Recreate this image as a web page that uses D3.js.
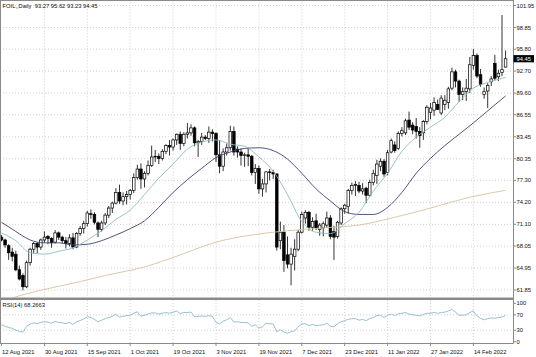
<!DOCTYPE html>
<html><head><meta charset="utf-8">
<script src="https://cdn.jsdelivr.net/npm/d3@7"></script>
<style>
html,body{margin:0;padding:0;background:#fff;overflow:hidden;}
svg{display:block;}
text{font-family:"Liberation Sans",Arial,sans-serif;font-size:5.8px;fill:#111;white-space:pre;}
</style></head><body>
<svg id="c" width="536" height="357"></svg>
<script>
// ---- data ----
const symbolTitle = "FOIL,,Daily  93.27 95.62 93.23 94.45";
const rsiTitle = "RSI(14) 68.2663";
const dateLabels = ["12 Aug 2021","30 Aug 2021","15 Sep 2021","1 Oct 2021","19 Oct 2021","3 Nov 2021","19 Nov 2021","7 Dec 2021","23 Dec 2021","11 Jan 2022","27 Jan 2022","14 Feb 2022"];
const dateIdx = [0,12,24,36,48,60,72,84,96,108,120,132];
const priceTicks = [101.95,98.85,95.80,92.70,89.60,86.55,83.45,80.35,77.30,74.20,71.10,68.05,64.95,61.85];
const rsiTicks = [100,70,30,0];
const lastPrice = 94.45;

const open = [69.3,68.9,68.1,67.2,66.9,64.7,63.9,62.3,65.7,67.6,
68.4,67.9,68.9,69.4,69.1,68.6,69.9,69.3,68.8,68.4,
69.2,67.9,69.8,70.5,71.2,72.6,72.5,71.3,70.4,71.3,
72.4,73.4,74.1,75.6,74.4,75.0,75.3,75.9,77.7,78.9,
77.5,78.3,79.4,80.6,80.7,80.4,81.4,82.2,82.0,83.0,
83.8,82.5,83.8,84.0,84.7,82.6,82.8,83.4,83.2,84.1,
83.9,80.9,79.3,81.3,81.9,84.2,81.7,81.3,80.8,80.9,
80.7,78.4,79.0,76.1,76.8,78.5,78.4,78.2,68.8,70.0,
66.8,65.5,66.6,67.6,70.0,72.0,72.8,70.7,71.6,70.4,
70.6,71.0,72.0,70.1,69.4,71.3,73.3,73.6,75.9,76.6,
76.6,75.8,76.2,75.2,77.0,78.0,79.3,80.0,78.4,81.3,
82.3,81.8,83.9,84.0,85.8,85.1,84.9,84.2,84.0,85.6,
86.9,87.2,88.0,86.8,88.0,88.3,90.3,92.6,91.3,89.4,
89.8,90.2,93.5,94.9,92.2,89.4,89.9,91.2,93.8,91.9,
92.5,93.27];
const high = [69.6,69.1,68.3,67.8,67.4,65.3,64.2,66.0,67.8,68.6,
68.6,69.1,70.1,69.6,69.3,70.3,70.1,69.5,69.3,69.7,
69.9,70.0,70.9,71.6,73.0,73.2,72.8,71.5,71.6,72.7,
73.7,74.3,76.2,76.7,75.6,75.8,76.1,78.3,79.5,79.7,
78.6,80.1,82.2,81.6,81.1,81.7,82.4,83.0,83.2,83.9,
84.2,84.1,85.4,85.2,84.9,83.0,84.0,83.7,84.9,84.5,
84.1,83.0,81.8,82.5,85.0,84.9,82.1,81.8,81.2,81.9,
80.9,79.6,79.4,77.5,78.6,78.9,78.8,78.3,71.5,71.0,
69.4,67.8,69.0,70.3,72.9,73.1,73.0,72.1,72.6,71.3,
71.5,72.9,72.4,70.9,71.6,73.5,74.0,76.1,77.0,77.2,
77.1,76.9,76.4,77.4,78.8,80.2,80.4,80.3,81.6,83.2,
82.8,84.2,84.8,86.0,87.0,85.5,86.1,84.8,85.8,87.9,
88.2,89.0,88.7,89.3,89.3,90.5,93.2,92.9,91.5,90.4,
91.6,94.7,95.8,95.2,93.0,90.4,91.0,92.0,95.0,92.9,
100.6,95.62];
const low = [68.7,67.8,66.1,65.9,64.5,63.2,61.8,62.1,65.3,67.0,
67.0,67.5,68.5,68.3,67.8,68.4,68.9,68.4,67.7,68.0,
67.6,67.8,69.5,69.8,70.8,71.9,71.1,69.3,70.1,71.0,
72.0,72.7,73.9,74.0,73.8,73.9,74.6,75.5,77.4,76.1,
76.3,78.0,79.2,79.9,79.6,80.1,81.0,80.8,81.5,82.3,
81.6,82.1,83.2,83.6,82.1,80.6,82.3,83.0,82.6,82.8,
79.9,78.3,78.6,80.8,81.5,80.8,80.5,79.4,79.2,79.3,
78.0,76.8,75.4,75.0,75.6,77.3,77.5,67.4,67.6,64.4,
64.9,62.5,64.6,67.3,69.8,71.2,70.2,70.2,70.3,69.5,
69.4,70.6,69.0,66.1,69.1,71.0,72.6,72.6,75.3,75.1,
75.5,75.3,74.1,75.0,76.6,76.8,78.6,77.8,78.0,81.1,
81.2,81.6,83.5,83.7,84.4,83.8,83.2,81.9,83.0,85.2,
85.9,86.4,87.2,86.5,87.2,87.4,90.0,90.4,88.4,88.6,
88.5,89.6,92.9,91.7,90.5,88.8,87.5,90.6,91.4,91.3,
92.0,93.23];
const close = [68.9,68.2,67.1,66.6,64.7,63.4,62.3,65.7,67.6,68.4,
67.9,68.9,69.3,69.1,68.5,69.9,69.3,68.8,68.4,69.2,
67.9,69.8,70.5,71.2,72.7,72.5,71.4,70.4,71.3,72.4,
73.4,74.1,75.6,74.4,75.0,75.3,75.9,77.7,78.9,77.5,
78.3,79.4,80.6,80.7,80.4,81.4,82.2,82.0,83.0,83.8,
82.5,83.8,84.0,84.7,82.6,82.8,83.4,83.2,84.1,83.9,
80.9,79.3,81.3,81.9,84.2,81.3,81.3,80.8,80.9,80.7,
78.4,79.0,76.1,76.8,78.5,78.4,78.2,67.9,70.0,66.0,
65.5,66.9,67.6,70.0,72.5,72.8,70.7,71.5,70.6,71.0,
71.2,72.0,69.4,69.3,71.4,73.3,73.8,75.9,76.6,76.7,
75.8,76.1,75.2,77.0,78.3,79.6,80.0,78.2,81.2,82.9,
81.5,83.9,84.3,85.7,84.8,84.4,84.2,83.6,85.6,87.6,
87.5,88.3,87.3,88.9,88.6,90.2,92.6,91.3,89.4,89.8,
90.3,93.6,94.9,92.0,90.8,89.8,90.7,91.6,91.7,92.4,
92.9,94.45];

const maIdx = [0,4,8,12,16,20,24,28,32,36,40,44,48,52,56,60,64,68,72,76,80,84,88,92,96,100,104,108,112,116,120,124,128,132,136,141];
const maShort = [69.9,68.8,67.1,66.9,67.3,67.8,68.9,70.2,71.8,73.1,75.3,77.6,79.6,81.7,82.7,83.0,82.4,82.1,80.6,78.6,75.3,71.5,70.0,69.8,71.2,72.8,75.8,78.3,81.4,83.4,84.8,86.2,88.4,90.3,91.1,91.8];
const maMid = [71.4,70.1,68.9,68.5,68.5,68.2,68.3,68.8,69.6,70.5,71.6,73.5,75.6,77.4,79.0,80.5,81.3,81.8,81.9,81.5,80.3,78.3,76.1,74.4,72.9,72.5,72.5,73.5,75.6,78.3,80.4,82.2,83.8,85.4,87.1,89.2];
const maLongIdx = [0,10,20,30,40,50,60,70,80,90,100,110,120,130,141];
const maLong = [60.3,61.7,62.8,64.0,65.1,66.8,68.6,69.6,70.2,70.6,71.0,72.1,73.4,74.8,75.9];

const rsi = [44,40,37,35,30,27,25,40,46,49,
47,50,52,51,48,53,50,49,47,50,
45,52,55,59,65,63,58,52,56,60,
63,66,71,64,66,68,69,74,78,66,
69,72,75,75,72,74,76,74,77,80,
73,76,76,77,65,66,67,66,68,66,
50,46,54,57,63,51,52,50,50,49,
40,44,35,39,48,47,46,26,31,25,
22,26,28,39,46,47,42,45,42,43,
44,48,40,39,47,52,55,58,60,60,
56,58,55,60,63,68,69,63,69,72,
68,73,74,76,72,70,69,67,71,74,
74,76,74,76,77,80,84,77,69,69,
70,76,80,67,61,57,60,62,61,63,
64,68.27];

// ---- layout ----
const svg = d3.select('#c');
const PR = 513.5, MT = 0.5, MB = 297.5, RT = 300, RB = 343.5;
const n = close.length;
const x = d3.scaleLinear().domain([0, n - 1]).range([1.5, 1.5 + (n - 1) * 3.575]);
const y = d3.scaleLinear().domain([61.85, 101.95]).range([290, 5.5]);
const yr = d3.scaleLinear().domain([0, 100]).range([341.7, 303.3]);

const defs = svg.append('defs');
defs.append('clipPath').attr('id','cm').append('rect').attr('x',0).attr('y',MT).attr('width',PR).attr('height',MB-MT);
defs.append('clipPath').attr('id','cr').append('rect').attr('x',0).attr('y',RT).attr('width',PR).attr('height',RB-RT);

const gridCol = '#c4c4c4';
const grid = svg.append('g').attr('stroke', gridCol).attr('stroke-width', 0.8).attr('stroke-dasharray', '1,2');
priceTicks.forEach(p => {
  grid.append('line').attr('x1',0).attr('x2',PR).attr('y1',y(p)).attr('y2',y(p));
});
dateIdx.forEach(i => {
  if (i === 0) return;
  grid.append('line').attr('x1',x(i)).attr('x2',x(i)).attr('y1',MT).attr('y2',MB);
  grid.append('line').attr('x1',x(i)).attr('x2',x(i)).attr('y1',RT).attr('y2',RB);
});
[70,30].forEach(v => {
  grid.append('line').attr('x1',0).attr('x2',PR).attr('y1',yr(v)).attr('y2',yr(v));
});

// ---- candles ----
const cg = svg.append('g').attr('clip-path','url(#cm)');
const idx = d3.range(n);
cg.selectAll('line.w').data(idx).join('line').attr('class','w')
  .attr('x1', i => x(i)).attr('x2', i => x(i))
  .attr('y1', i => y(high[i])).attr('y2', i => y(low[i]))
  .attr('stroke', '#000').attr('stroke-width', 0.8);
cg.selectAll('rect.b').data(idx).join('rect').attr('class','b')
  .attr('x', i => x(i) - 1.3).attr('width', 2.6)
  .attr('y', i => y(Math.max(open[i], close[i])))
  .attr('height', i => Math.max(0.6, Math.abs(y(open[i]) - y(close[i]))))
  .attr('fill', i => close[i] >= open[i] ? '#fff' : '#000')
  .attr('stroke', '#000').attr('stroke-width', 0.7);

// ---- moving averages ----
const lg = svg.append('g').attr('clip-path','url(#cm)').attr('fill','none');
const line = d3.line().x(d => x(d[0])).y(d => y(d[1])).curve(d3.curveMonotoneX);
lg.append('path').attr('d', line(maLongIdx.map((i,k) => [i, maLong[k]]))).attr('stroke','#d6c3a0').attr('stroke-width',0.9);
lg.append('path').attr('d', line(maIdx.map((i,k) => [i, maMid[k]]))).attr('stroke','#3f3f75').attr('stroke-width',0.9);
lg.append('path').attr('d', line(maIdx.map((i,k) => [i, maShort[k]]))).attr('stroke','#8fbcbe').attr('stroke-width',0.9);

// ---- RSI ----
const rl = d3.line().x((d,i) => x(i)).y(d => yr(d));
svg.append('g').attr('clip-path','url(#cr)').append('path').attr('d', rl(rsi))
  .attr('fill','none').attr('stroke','#7fb0cc').attr('stroke-width',0.8);

// ---- frame ----
const fr = svg.append('g').attr('stroke','#8a8a8a').attr('stroke-width',1).attr('fill','none');
fr.append('line').attr('x1',0.5).attr('x2',0.5).attr('y1',0).attr('y2',RB);
fr.append('line').attr('x1',0).attr('x2',PR).attr('y1',0.5).attr('y2',0.5);
fr.append('line').attr('x1',PR).attr('x2',PR).attr('y1',0).attr('y2',RB);
fr.append('line').attr('x1',0).attr('x2',PR).attr('y1',RB).attr('y2',RB);
svg.append('rect').attr('x',0).attr('y',297.5).attr('width',PR).attr('height',2.5).attr('fill','#8a8a8a');

// right axis ticks + labels
priceTicks.forEach(p => {
  fr.append('line').attr('x1',PR).attr('x2',PR+2.5).attr('y1',y(p)).attr('y2',y(p));
  svg.append('text').attr('x',516.5).attr('y',y(p)).attr('dy','0.35em').text(p.toFixed(2));
});
rsiTicks.forEach(v => {
  fr.append('line').attr('x1',PR).attr('x2',PR+2.5).attr('y1',yr(v)).attr('y2',yr(v));
  svg.append('text').attr('x',516.5).attr('y',yr(v)).attr('dy','0.35em').text(v);
});
// bottom axis ticks + labels
dateIdx.forEach((i,k) => {
  fr.append('line').attr('x1',x(i)).attr('x2',x(i)).attr('y1',RB).attr('y2',RB+2.5);
  svg.append('text').attr('x',x(i)+0.5).attr('y',354).text(dateLabels[k]);
});

// current price box
const yp = y(lastPrice);
svg.append('rect').attr('x',PR).attr('y',yp-3.6).attr('width',20.5).attr('height',7.2).attr('fill','#000');
svg.append('text').attr('x',516.5).attr('y',yp).attr('dy','0.35em').style('fill','#fff').text(lastPrice.toFixed(2));

// titles
svg.append('text').attr('x',2.5).attr('y',7.8).text(symbolTitle);
svg.append('text').attr('x',2.5).attr('y',306.8).text(rsiTitle);
</script>
</body></html>
